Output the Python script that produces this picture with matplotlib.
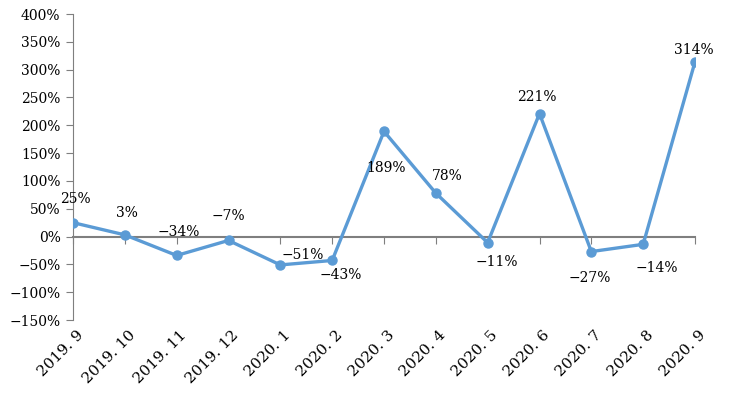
import matplotlib
matplotlib.use("Agg")
import matplotlib.pyplot as plt
import matplotlib.transforms as mtransforms

plt.rcParams['font.family'] = ['DejaVu Serif']

months = ["2019. 9", "2019. 10", "2019. 11", "2019. 12", "2020. 1", "2020. 2",
          "2020. 3", "2020. 4", "2020. 5", "2020. 6", "2020. 7", "2020. 8", "2020. 9"]
growth = [25, 3, -34, -7, -51, -43, 189, 78, -11, 221, -27, -14, 314]

# label offsets in pixels (x, y) from each point
offsets = [(2, 24), (2, 22), (2, 23), (0, 24), (22, 10), (9, -15), (2, -37),
           (11, 17), (9, -19), (-3, 17), (-2, -26), (14, -24), (-1, 12)]

line_color = "#5B9BD5"
axis_color = "#7f7f7f"

fig = plt.figure(figsize=(7.33, 3.93), dpi=100)
ax = fig.add_axes([73/733, 1-320/393, (695-73)/733, (320-14)/393])

x = list(range(len(months)))
ax.plot(x, growth, color=line_color, linewidth=2.4, marker='o', markersize=6.5, zorder=3)

ax.set_xlim(0, len(months)-1)
ax.set_ylim(-150, 400)
ax.set_yticks(range(-150, 401, 50))
ax.set_yticklabels([("−%d%%" % -v) if v < 0 else "%d%%" % v for v in range(-150, 401, 50)],
                   fontsize=10)

for s in ['top', 'right']:
    ax.spines[s].set_visible(False)
ax.spines['left'].set_color(axis_color)
ax.spines['bottom'].set_position(('data', 0))
ax.spines['bottom'].set_color(axis_color)
ax.spines['bottom'].set_linewidth(1.5)
ax.tick_params(axis='y', direction='out', length=5, color=axis_color, pad=4)
ax.tick_params(axis='x', direction='out', length=5, color=axis_color, labelbottom=False)
ax.set_xticks(x)

trans = mtransforms.blended_transform_factory(ax.transData, ax.transAxes)
for i, m in enumerate(months):
    ax.text(i + 0.06, -0.025, m, transform=trans, rotation=45, ha='right', va='top',
            rotation_mode='anchor', fontsize=11)

for i, v in enumerate(growth):
    lab = ("−%d%%" % -v) if v < 0 else "%d%%" % v
    ax.annotate(lab, (i, v), xytext=offsets[i], textcoords='offset pixels',
                ha='center', va='center', fontsize=10)

fig.savefig("out.png", dpi=100)
